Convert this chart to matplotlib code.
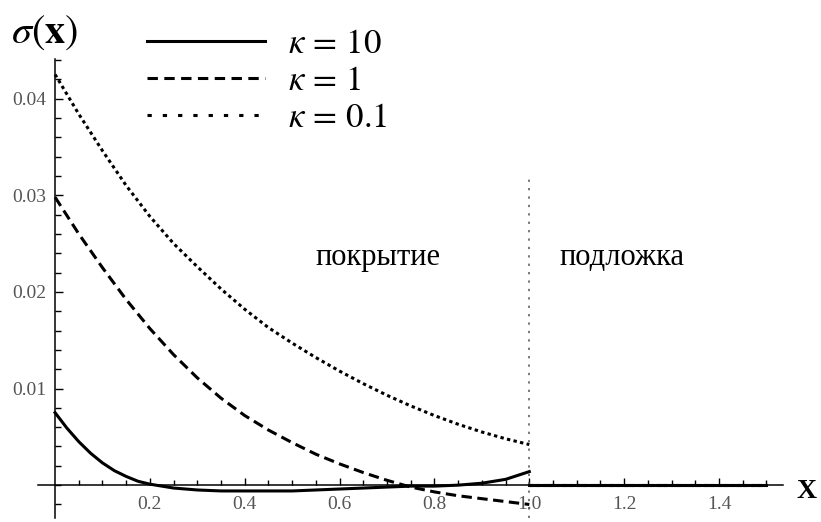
import matplotlib
matplotlib.use("Agg")
import matplotlib.pyplot as plt
from matplotlib.lines import Line2D
from matplotlib.ticker import FixedLocator

plt.rcParams['font.family'] = ['Liberation Serif', 'DejaVu Serif']
plt.rcParams['mathtext.fontset'] = 'stix'

# coating region, sampled along x
x_coat = [0.0, 0.025, 0.05, 0.075, 0.1, 0.125, 0.15, 0.175, 0.2, 0.25, 0.3, 0.35,
          0.4, 0.45, 0.5, 0.55, 0.6, 0.65, 0.7, 0.75, 0.8, 0.85, 0.9, 0.95, 1.0]
sigma_k10 = [0.0075, 0.0059, 0.0045, 0.0033, 0.0023, 0.0015, 0.0009, 0.0004, 0.0001,
             -0.0003, -0.0005, -0.0006, -0.0006, -0.0006, -0.0006, -0.0005, -0.0004,
             -0.0003, -0.0002, -0.0001, -0.0001, 0.0000, 0.0002, 0.0006, 0.0014]

x_coarse = [0.0, 0.05, 0.1, 0.15, 0.2, 0.25, 0.3, 0.35, 0.4, 0.45, 0.5,
            0.55, 0.6, 0.65, 0.7, 0.75, 0.8, 0.85, 0.9, 0.95, 1.0]
sigma_k1 = [0.0298, 0.0260, 0.0225, 0.0192, 0.0162, 0.0135, 0.0111, 0.0090, 0.0072,
            0.0057, 0.0044, 0.0032, 0.0022, 0.0013, 0.0005, -0.0002, -0.0007,
            -0.0011, -0.0014, -0.0017, -0.0020]
sigma_k01 = [0.0425, 0.0384, 0.0346, 0.0310, 0.0278, 0.0250, 0.0226, 0.0203, 0.0182,
             0.0163, 0.0147, 0.0132, 0.0118, 0.0105, 0.0093, 0.0082, 0.0072,
             0.0063, 0.0055, 0.0048, 0.0042]

# substrate region: sigma is zero
x_sub = [1.0, 1.5]
sigma_sub = [0.0, 0.0]

x_ticks = [0.2, 0.4, 0.6, 0.8, 1.0, 1.2, 1.4]
y_ticks = [0.01, 0.02, 0.03, 0.04]
labels = [r'$\kappa\,=\,10$', r'$\kappa\,=\,1$', r'$\kappa\,=\,0.1$']

fig = plt.figure(figsize=(8.21, 5.22), dpi=100)
ax = fig.add_axes([38 / 821, 4 / 522, 745 / 821, 459 / 522])
ax.set_xlim(-0.036, 1.535)
ax.set_ylim(-0.0034, 0.0441)

lw = 2.2
dash = (0, (3.4, 1.8))
dots = (0, (1.1, 1.1))
ax.plot(x_coat, sigma_k10, color='black', lw=lw)
ax.plot(x_coarse, sigma_k1, color='black', lw=lw, linestyle=dash)
ax.plot(x_coarse, sigma_k01, color='black', lw=lw, linestyle=dots, dash_capstyle='butt')
for ls in [dash, dots]:
    ax.plot(x_sub, sigma_sub, color='black', lw=lw, linestyle=ls)
ax.plot(x_sub, sigma_sub, color='black', lw=lw)

# boundary between coating and substrate
ax.axvline(1.0, ymin=0, ymax=(0.0318 + 0.0034) / 0.0475, color='#555555',
           lw=1.1, linestyle=(0, (1.5, 4)))

ax.text(0.68, 0.0228, 'покрытие', fontsize=22, ha='center', va='baseline')
ax.text(1.196, 0.0228, 'подложка', fontsize=22, ha='center', va='baseline')

# axes through the origin
for side in ['top', 'right']:
    ax.spines[side].set_visible(False)
ax.spines['left'].set_position(('data', 0))
ax.spines['bottom'].set_position(('data', 0))
ax.spines['left'].set_linewidth(1.1)
ax.spines['bottom'].set_linewidth(1.1)

ax.xaxis.set_major_locator(FixedLocator(x_ticks))
ax.xaxis.set_minor_locator(FixedLocator([i * 0.05 for i in range(1, 31)]))
ax.yaxis.set_major_locator(FixedLocator(y_ticks))
ax.yaxis.set_minor_locator(FixedLocator([i * 0.002 for i in range(-1, 23)]))
ax.set_xticklabels(['0.2', '0.4', '0.6', '0.8', '1.0', '1.2', '1.4'])
ax.set_yticklabels(['0.01', '0.02', '0.03', '0.04'])
ax.tick_params(axis='x', which='major', direction='in', length=5, width=1, pad=8,
               labelsize=14, labelcolor='#555555')
ax.tick_params(axis='x', which='minor', direction='in', length=3.5, width=1)
ax.tick_params(axis='y', which='major', direction='in', length=6, width=1, pad=6,
               labelsize=14, labelcolor='#555555')
ax.tick_params(axis='y', which='minor', direction='in', length=4, width=1)

fig.text(11 / 821, 1 - 33 / 522, r'$\sigma(\mathbf{x})$', fontsize=29,
         ha='left', va='center')
fig.text(807 / 821, 1 - 491 / 522, 'X', fontsize=20, fontweight='bold',
         ha='center', va='center')

handles = [Line2D([], [], color='black', lw=lw),
           Line2D([], [], color='black', lw=lw, linestyle=(0, (3.4, 2.1))),
           Line2D([], [], color='black', lw=lw, linestyle=(0, (1.4, 3.6)))]
ax.legend(handles, labels, loc='upper left', bbox_to_anchor=(147 / 821, 1 - 28 / 522),
          bbox_transform=fig.transFigure, frameon=False, fontsize=25,
          handlelength=3.4, handletextpad=0.65, labelspacing=0.12, borderpad=0,
          borderaxespad=0)

fig.savefig('out.png', dpi=100)
